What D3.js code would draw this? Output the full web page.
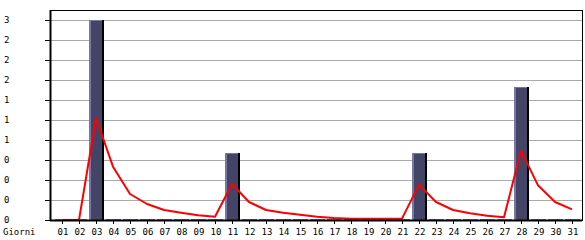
<!DOCTYPE html>
<html>
<head>
<meta charset="utf-8">
<script src="https://cdn.jsdelivr.net/npm/d3@7"></script>
<style>
  body { margin: 0; background: #fff; }
  text { font-family: "DejaVu Sans Mono", monospace; font-size: 9px; fill: #000; }
</style>
</head>
<body>
<div id="chart-area"></div>
<script>
// dati
const days = ["01","02","03","04","05","06","07","08","09","10","11","12","13","14","15","16",
  "17","18","19","20","21","22","23","24","25","26","27","28","29","30","31"];
const visits = [0,0,3,0,0,0,0,0,0,0,1,0,0,0,0,0,0,0,0,0,0,1,0,0,0,0,0,2,0,0,0];
const trend = [0,0,1.53,0.8,0.39,0.24,0.15,0.11,0.07,0.05,0.54,0.27,0.15,0.11,0.08,0.05,
  0.03,0.02,0.02,0.02,0.02,0.53,0.27,0.15,0.1,0.065,0.04,1.04,0.52,0.27,0.16];
const yTicks = [0,0.3,0.6,0.9,1.2,1.5,1.8,2.1,2.4,2.7,3.0];
const xTitle = "Giorni";

const width = 585, height = 240;
const plot = {left: 50, right: 582, top: 10, bottom: 220};

const svg = d3.select("#chart-area").append("svg")
  .attr("width", width).attr("height", height);

// scale
const x = d3.scalePoint().domain(days).range([62, 572]);
const y = d3.scaleLinear().domain([0, 3.15]).range([plot.bottom, plot.top]);

// griglia
svg.append("g").selectAll("line").data(yTicks.slice(1)).enter().append("line")
  .attr("x1", plot.left).attr("x2", plot.right)
  .attr("y1", d => Math.round(y(d)) + 0.5).attr("y2", d => Math.round(y(d)) + 0.5)
  .attr("stroke", "#aaaaaa").attr("stroke-width", 1);

// barre
const bars = svg.append("g").selectAll("g").data(days).enter().append("g");
bars.each(function(d, i) {
  const g = d3.select(this);
  const c = x(d);
  const v = visits[i];
  if (v === 0) {
    g.append("rect").attr("x", c - 7).attr("y", plot.bottom - 1)
      .attr("width", 15).attr("height", 1.5).attr("fill", "#7777aa");
    return;
  }
  const top = Math.round(y(v));
  const h = plot.bottom - top;
  g.append("rect").attr("x", c - 7).attr("y", top).attr("width", 15).attr("height", h).attr("fill", "#444466");
  g.append("rect").attr("x", c - 7).attr("y", top).attr("width", 2).attr("height", h).attr("fill", "#7777aa");
  g.append("rect").attr("x", c - 7).attr("y", top).attr("width", 14).attr("height", 1).attr("fill", "#7777aa");
  g.append("rect").attr("x", c + 6).attr("y", top).attr("width", 2).attr("height", h).attr("fill", "#000");
});

// linea media
const line = d3.line().x((d, i) => x(days[i])).y(d => y(d));
svg.append("path").datum(trend)
  .attr("d", line)
  .attr("fill", "none").attr("stroke", "#ff0000").attr("stroke-width", 2)
  .attr("stroke-linejoin", "round");

// cornice
svg.append("rect")
  .attr("x", plot.left + 0.5).attr("y", plot.top + 0.5)
  .attr("width", plot.right - plot.left).attr("height", plot.bottom - plot.top)
  .attr("fill", "none").attr("stroke", "#000").attr("stroke-width", 1);
svg.append("line").attr("x1", plot.left).attr("x2", plot.right)
  .attr("y1", plot.bottom + 0.5).attr("y2", plot.bottom + 0.5).attr("stroke", "#000").attr("stroke-width", 2);
svg.append("line").attr("x1", plot.left + 0.5).attr("x2", plot.left + 0.5)
  .attr("y1", plot.top).attr("y2", plot.bottom + 1).attr("stroke", "#000").attr("stroke-width", 2);

// asse y
const yAxis = svg.append("g");
yAxis.selectAll("line").data(yTicks).enter().append("line")
  .attr("x1", 45).attr("x2", plot.left)
  .attr("y1", d => Math.round(y(d)) + 0.5).attr("y2", d => Math.round(y(d)) + 0.5)
  .attr("stroke", "#000");
yAxis.selectAll("text").data(yTicks).enter().append("text")
  .attr("x", 4).attr("y", d => Math.round(y(d)) + 3)
  .text(d => Math.floor(d + 1e-9));

// asse x
const xAxis = svg.append("g");
xAxis.selectAll("line").data(days).enter().append("line")
  .attr("x1", d => Math.round(x(d)) + 0.5).attr("x2", d => Math.round(x(d)) + 0.5)
  .attr("y1", plot.bottom).attr("y2", plot.bottom + 4)
  .attr("stroke", "#000");
xAxis.selectAll("text").data(days).enter().append("text")
  .attr("x", d => x(d) + 1).attr("y", 235)
  .attr("text-anchor", "middle")
  .text(d => d);
svg.append("text").attr("x", 3).attr("y", 235).text(xTitle);
</script>
</body>
</html>
